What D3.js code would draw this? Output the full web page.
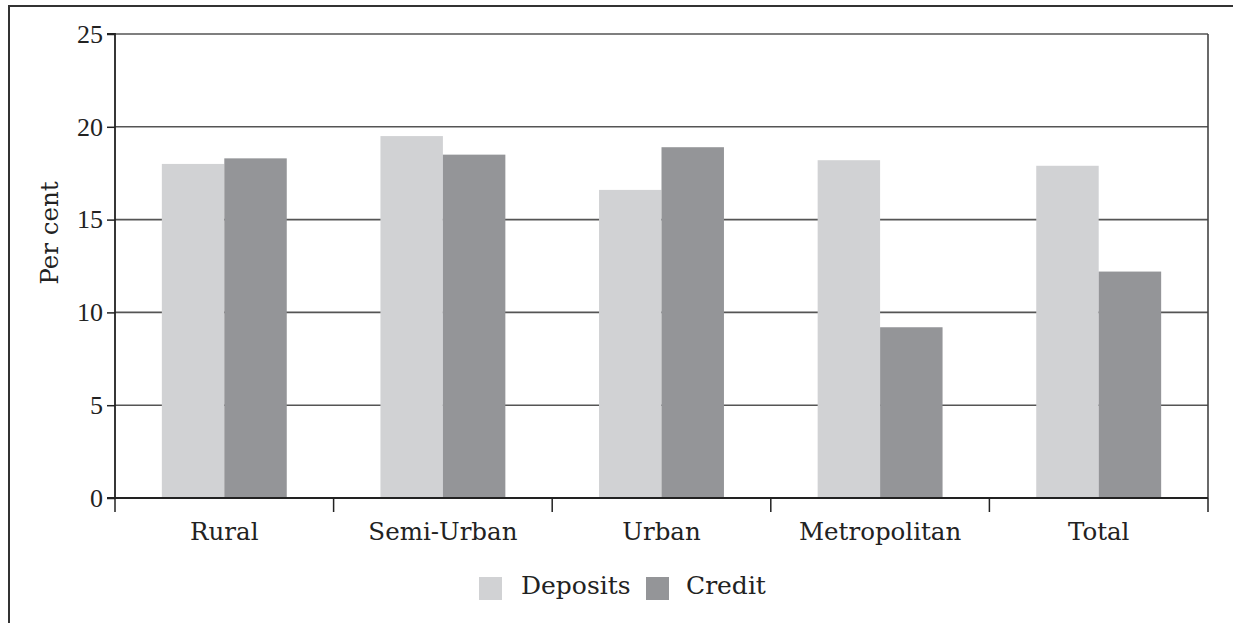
<!DOCTYPE html>
<html><head><meta charset="utf-8">
<script src="https://cdn.jsdelivr.net/npm/d3@7"></script>
<style>body{margin:0;background:#fff}svg{display:block}</style>
</head><body>
<svg id="c" width="1233" height="623"></svg>
<script>
const categories = ["Rural", "Semi-Urban", "Urban", "Metropolitan", "Total"];
const seriesNames = ["Deposits", "Credit"];
const deposits = [18.0, 19.5, 16.6, 18.2, 17.9];
const credit = [18.3, 18.5, 18.9, 9.2, 12.2];
const yTicks = [0, 5, 10, 15, 20, 25];
const colors = ["#d1d2d4", "#949598"];

const svg = d3.select("#c");
const serif = "'DejaVu Serif', serif";
const tickFont = "'Liberation Serif', serif";

// outer frame
svg.append("rect").attr("x", 9).attr("y", 6).attr("width", 1300).attr("height", 700)
  .attr("fill", "none").attr("stroke", "#333").attr("stroke-width", 2);

const L = 115, R = 1208, T = 34, B = 498;
const x = d3.scaleBand().domain(categories).range([L, R]).paddingInner(0).paddingOuter(0);
const x1 = d3.scaleBand().domain(seriesNames).range([0, x.bandwidth()]).paddingInner(0).paddingOuter(0.75);
const y = d3.scaleLinear().domain([0, 25]).range([B, T]);

// grid lines
svg.append("g").selectAll("line").data(yTicks.filter(d => d > 0)).join("line")
  .attr("x1", L).attr("x2", R).attr("y1", d => y(d)).attr("y2", d => y(d))
  .attr("stroke", "#555").attr("stroke-width", 1.6);

// right border
svg.append("line").attr("x1", R).attr("x2", R).attr("y1", T).attr("y2", B)
  .attr("stroke", "#444").attr("stroke-width", 1.6);

// bars
const data = categories.map((c, i) => ({c, vals: [deposits[i], credit[i]]}));
const g = svg.append("g").selectAll("g").data(data).join("g")
  .attr("transform", d => `translate(${x(d.c)},0)`);
g.selectAll("rect").data(d => d.vals.map((v, j) => ({s: seriesNames[j], v, j}))).join("rect")
  .attr("x", d => x1(d.s)).attr("width", x1.bandwidth())
  .attr("y", d => y(d.v)).attr("height", d => y(0) - y(d.v))
  .attr("fill", d => colors[d.j]);

// y axis
const yAxis = d3.axisLeft(y).tickValues(yTicks).tickSize(8).tickPadding(4);
const ya = svg.append("g").attr("transform", `translate(${L},0)`).call(yAxis);
ya.select(".domain").attr("stroke", "#222").attr("stroke-width", 1.8).attr("d", `M-8,${T}H0V${B}H-8`);
ya.selectAll(".tick line").attr("stroke", "#222").attr("stroke-width", 1.5);
ya.selectAll(".tick text").attr("font-family", tickFont).attr("font-size", 26).attr("fill", "#222");

// x axis
const xAxis = d3.axisBottom(x).tickSize(0).tickPadding(0);
const xa = svg.append("g").attr("transform", `translate(0,${B})`).call(xAxis);
xa.select(".domain").attr("stroke", "#222").attr("stroke-width", 1.8).attr("d", `M${L},0H${R}`);
xa.selectAll(".tick text").attr("font-family", serif).attr("font-size", 24.5).attr("fill", "#222")
  .attr("dy", 0).attr("y", 42);
// category separators
const seps = categories.map(c => x(c)).concat([R]);
xa.append("g").selectAll("line").data(seps).join("line")
  .attr("x1", d => d).attr("x2", d => d).attr("y1", 0).attr("y2", 14)
  .attr("stroke", "#222").attr("stroke-width", 1.5);

// y label
svg.append("text").attr("transform", `translate(58,${(T + B) / 2 - 33}) rotate(-90)`)
  .attr("text-anchor", "middle").attr("font-family", serif).attr("font-size", 24.5)
  .attr("fill", "#222").text("Per cent");

// legend
const leg = [{n: seriesNames[0], sx: 479, tx: 521}, {n: seriesNames[1], sx: 646, tx: 686}];
const lg = svg.append("g").selectAll("g").data(leg).join("g");
lg.append("rect").attr("x", d => d.sx).attr("y", 577).attr("width", 23).attr("height", 23)
  .attr("fill", (d, i) => colors[i]);
lg.append("text").attr("x", d => d.tx).attr("y", 594).attr("font-family", serif)
  .attr("font-size", 25).attr("fill", "#222").text(d => d.n);
</script>
</body></html>
